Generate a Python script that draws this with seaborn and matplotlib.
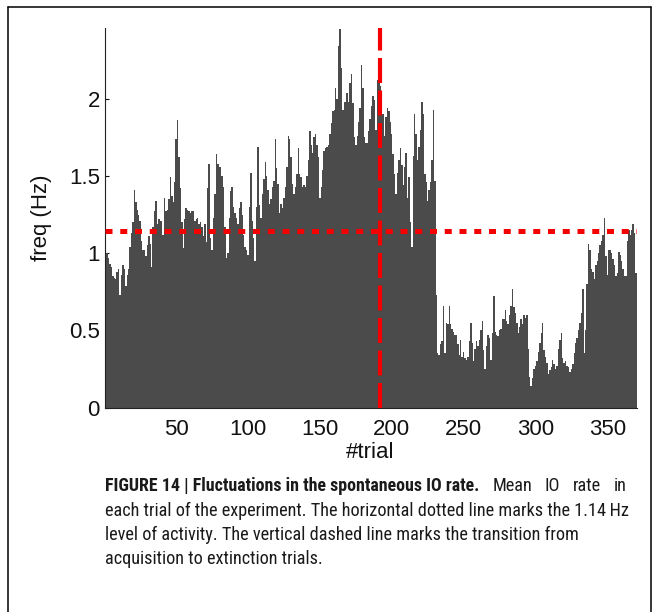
import numpy as np
import pandas as pd
import matplotlib
matplotlib.use("Agg")
import matplotlib.pyplot as plt
import seaborn as sns
from matplotlib.lines import Line2D
from matplotlib import font_manager

# ---- data (mean IO rate per trial) ----
freq_trials_001_060 = [
    1.12, 1.0, 0.97, 0.93, 0.91, 0.85, 0.84, 0.83, 0.88, 0.9,
    0.73, 0.86, 0.92, 0.9, 0.79, 0.86, 0.9, 1.04, 1.13, 1.2,
    1.41, 1.33, 1.28, 1.25, 1.21, 1.08, 1.02, 1.02, 0.98, 1.05,
    1.11, 1.06, 0.91, 1.17, 1.27, 1.34, 1.19, 1.22, 1.21, 1.21,
    1.12, 1.36, 1.27, 1.28, 1.35, 1.49, 1.37, 1.33, 1.46, 1.74,
    1.86, 1.62, 1.42, 1.2, 1.03, 1.22, 1.29, 1.28, 1.27, 1.26,
]
freq_trials_061_121 = [
    1.27, 1.27, 1.21, 1.22, 1.23, 1.19, 1.2, 1.17, 1.11, 1.19,
    1.07, 1.42, 1.58, 1.1, 1.02, 1.23, 1.38, 1.64, 1.58, 1.56,
    1.56, 1.5, 1.43, 1.17, 0.97, 1.0, 1.23, 1.40, 1.43, 1.3,
    1.26, 1.23, 1.19, 1.29, 1.33, 1.25, 1.12, 1.04, 1.02, 0.99,
    1.30, 1.52, 1.21, 1.1, 0.95, 1.30, 1.69, 1.31, 1.23, 1.38,
    1.48, 1.59, 1.5, 1.41, 1.32, 1.35, 1.43, 1.47, 1.74, 1.55, 1.45,
]
freq_trials_122_182 = [
    1.26, 1.32, 1.29, 1.36, 1.43, 1.56, 1.76, 1.74, 1.62, 1.45,
    1.38, 1.43, 1.51, 1.68, 1.51, 1.49, 1.43, 1.44, 1.43, 1.5,
    1.6, 1.79, 1.70, 1.65, 1.75, 1.77, 1.7, 1.62, 1.36, 1.43,
    1.54, 1.66, 1.68, 1.69, 1.7, 1.77, 1.84, 1.92, 1.93, 2.07,
    2.0, 2.34, 2.45, 2.2, 1.93, 1.98, 1.98, 2.04, 1.98, 2.1,
    2.16, 1.97, 1.75, 1.70, 1.76, 1.85, 1.94, 2.22, 2.07, 1.75, 1.71,
]
freq_trials_183_244 = [
    1.71, 1.79, 1.87, 1.95, 2.02, 1.99, 1.80, 2.12, 2.15, 2.08,
    1.95, 1.90, 1.76, 1.88, 1.94, 1.92, 1.85, 1.77, 1.64, 1.51,
    1.38, 1.52, 1.6, 1.68, 1.57, 1.44, 1.56, 1.65, 1.36, 1.49,
    1.2, 1.04, 1.63, 1.90, 1.77, 1.6, 1.69, 1.8, 1.98, 1.90,
    1.51, 1.46, 1.34, 1.41, 1.46, 1.6, 1.93, 1.47, 0.73, 0.35,
    0.34, 0.41, 0.43, 0.66, 0.35, 0.55, 0.54, 0.66, 0.54, 0.51, 0.49, 0.47,
]
freq_trials_245_305 = [
    0.47, 0.41, 0.34, 0.44, 0.33, 0.36, 0.32, 0.31, 0.33, 0.43,
    0.55, 0.42, 0.30, 0.38, 0.43, 0.40, 0.44, 0.50, 0.56, 0.37,
    0.25, 0.4, 0.47, 0.45, 0.31, 0.48, 0.72, 0.49, 0.47, 0.46,
    0.5, 0.51, 0.57, 0.57, 0.63, 0.56, 0.54, 0.6, 0.66, 0.77,
    0.65, 0.61, 0.55, 0.48, 0.52, 0.57, 0.54, 0.60, 0.58, 0.60,
    0.38, 0.20, 0.14, 0.19, 0.25, 0.27, 0.30, 0.36, 0.42, 0.48, 0.55,
]
freq_trials_306_370 = [
    0.37, 0.33, 0.29, 0.22, 0.24, 0.26, 0.31, 0.28, 0.25, 0.27,
    0.38, 0.44, 0.48, 0.32, 0.29, 0.30, 0.27, 0.26, 0.23, 0.25,
    0.28, 0.35, 0.42, 0.45, 0.50, 0.55, 0.61, 0.77, 0.35, 0.50,
    0.80, 1.06, 1.02, 0.9, 0.88, 0.83, 0.92, 0.95, 1.0, 1.05,
    1.08, 1.12, 1.23, 0.98, 0.86, 1.02, 1.02, 1.0, 0.96, 0.92,
    0.85, 0.87, 1.01, 0.99, 0.95, 0.90, 0.85, 0.85, 1.08, 1.15,
    1.12, 1.15, 1.19, 1.13, 0.87,
]

level_hz = 1.14          # horizontal dotted line
transition_trial = 192   # vertical dashed line
x_ticks = [50, 100, 150, 200, 250, 300, 350]
y_ticks = [0, 0.5, 1, 1.5, 2]
y_tick_labels = ["0", "0.5", "1", "1.5", "2"]
x_label = "#trial"
y_label = "freq (Hz)"
caption_bold = "FIGURE 14 | Fluctuations in the spontaneous IO rate."
caption_line1_rest = ["Mean", "IO", "rate", "in"]
caption_lines = [
    "each trial of the experiment. The horizontal dotted line marks the 1.14\u2009Hz",
    "level of activity. The vertical dashed line marks the transition from",
    "acquisition to extinction trials.",
]

freq = (freq_trials_001_060 + freq_trials_061_121 + freq_trials_122_182
        + freq_trials_183_244 + freq_trials_245_305 + freq_trials_306_370)
trials = list(range(1, len(freq) + 1))
df = pd.DataFrame({"trial": trials, "freq": freq})

# ---- style ----
sns.set_style("ticks")
plt.rcParams["font.family"] = ["Liberation Sans", "DejaVu Sans"]

W, H = 658, 612
fig = plt.figure(figsize=(W / 100, H / 100), dpi=100)
fig.patch.set_facecolor("white")

ax_left, ax_right, ax_bottom, ax_top = 105.0, 636.8, 407.5, 28.3
ax = fig.add_axes([ax_left / W, 1 - ax_bottom / H,
                   (ax_right - ax_left) / W, (ax_bottom - ax_top) / H])

sns.barplot(data=df, x="trial", y="freq", native_scale=True, width=1.0,
            color="#4b4b4b", saturation=1, edgecolor="none", linewidth=0,
            errorbar=None, ax=ax)

ax.set_xlim(0.5, len(freq) + 0.5)
ax.set_ylim(0, 2.456)

ax.axhline(level_hz, color="#f50000", lw=3.6, ls=(0, (1.4, 1.55)),
           dash_capstyle="butt", zorder=5)
ax.axvline(transition_trial, color="#f50000", lw=3.0, ls=(0, (6.0, 1.8)),
           dash_capstyle="butt", zorder=5)

ax.set_xticks(x_ticks)
ax.set_xticklabels([str(v) for v in x_ticks])
ax.set_yticks(y_ticks)
ax.set_yticklabels(y_tick_labels)
ax.tick_params(axis="both", direction="in", length=3, width=0.8,
               labelsize=16, colors="#111111")
ax.tick_params(axis="x", pad=8.5)
ax.tick_params(axis="y", pad=3.6)
ax.set_xlabel("")
ax.set_ylabel("")
for s in ["top", "right"]:
    ax.spines[s].set_visible(False)
for s in ["left", "bottom"]:
    ax.spines[s].set_linewidth(0.8)
    ax.spines[s].set_color("#222222")

fig.text(42 / W, 1 - 218 / H, y_label, rotation=90, ha="center",
         va="center", fontsize=16, color="#111111")
fig.text(370 / W, 1 - 452 / H, x_label, ha="center", va="center",
         fontsize=16, color="#111111")

# ---- panel frame ----
lw_frame = 1.1
fig.add_artist(Line2D([7.5 / W, 7.5 / W], [0, 1 - 7 / H], transform=fig.transFigure,
                      color="black", lw=lw_frame))
fig.add_artist(Line2D([7.5 / W, 651 / W], [1 - 7 / H, 1 - 7 / H],
                      transform=fig.transFigure, color="black", lw=lw_frame))
fig.add_artist(Line2D([651 / W, 651 / W], [0, 1 - 7 / H], transform=fig.transFigure,
                      color="black", lw=lw_frame))

# ---- caption (condensed sans, like the journal's caption face) ----
names = {f.name for f in font_manager.fontManager.ttflist}
cap_fam = "Liberation Sans"
for cand in ["Liberation Sans Narrow", "Roboto Condensed", "PT Sans Narrow",
             "Archivo Narrow", "Barlow Semi Condensed"]:
    if cand in names:
        cap_fam = cand
        break
cap_families = [cap_fam, "DejaVu Sans"]
renderer = fig.canvas.get_renderer()


def text_width(s, size, **kw):
    t = fig.text(0, 0, s, fontsize=size, family=cap_families, **kw)
    w = t.get_window_extent(renderer).width
    t.remove()
    return w


# regular size: lines 2-4 together as wide as in the reference
ref_total = 514 + 482 + 224
meas = sum(text_width(s, 12) for s in caption_lines)
reg_size = 12 * ref_total / meas
# bold size: bold lead-in 373 px wide
bold_size = 12 * 373.0 / text_width(caption_bold, 12, weight="bold")

baselines = [491, 515.5, 540, 564.5]
cx = 105 / W
col = "#1a1a1a"
tb = fig.text(cx, 1 - baselines[0] / H, caption_bold, fontsize=bold_size,
              family=cap_families, weight="bold", va="baseline", color=col)
x_end_bold = tb.get_window_extent(renderer).x1
# rest of the first line, justified to the column edge as in the reference
ws = [text_width(w, reg_size) for w in caption_line1_rest]
right_edge = 627.0
gap = (right_edge - x_end_bold - sum(ws)) / len(ws)
xpos = x_end_bold + gap
for w_txt, w_px in zip(caption_line1_rest, ws):
    fig.text(xpos / W, 1 - baselines[0] / H, w_txt, fontsize=reg_size,
             family=cap_families, va="baseline", color=col)
    xpos += w_px + gap
for i, line in enumerate(caption_lines):
    fig.text(cx, 1 - baselines[i + 1] / H, line, fontsize=reg_size,
             family=cap_families, va="baseline", color=col)

fig.savefig("out.png", dpi=100, facecolor="white")
